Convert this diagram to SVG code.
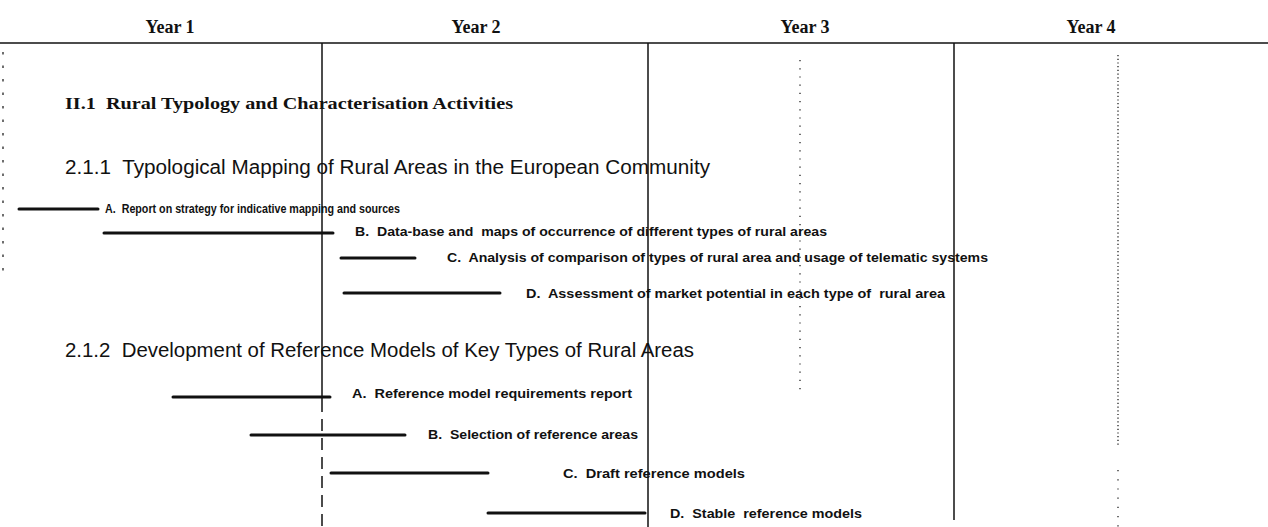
<svg xmlns="http://www.w3.org/2000/svg" width="1268" height="527" viewBox="0 0 1268 527">
<style>
.yr{font-family:"Liberation Serif",serif;font-weight:bold;font-size:18px;fill:#111}
.h1{font-family:"Liberation Serif",serif;font-weight:bold;font-size:17.5px;fill:#111}
.h2{font-family:"Liberation Sans",sans-serif;font-size:19.5px;fill:#111}
.lb{font-family:"Liberation Sans",sans-serif;font-weight:bold;font-size:13px;fill:#111}
.bar{stroke:#111;stroke-width:3;stroke-linecap:round}
.grid{stroke:#111;stroke-width:1.5;fill:none}
.dot{stroke:#222;stroke-width:1.3;fill:none}
</style>
<rect width="1268" height="527" fill="#fff"/>
<g id="connectors">
<line class="grid" x1="0" y1="43" x2="1268" y2="43" stroke-width="2.2"/>
<line class="grid" x1="322" y1="43" x2="322" y2="400"/>
<line class="grid" x1="322" y1="400" x2="322" y2="527" stroke-dasharray="12 7"/>
<line class="grid" x1="648" y1="43" x2="648" y2="527"/>
<line class="grid" x1="954" y1="43" x2="954" y2="520"/>
<line class="dot" x1="3" y1="52" x2="3" y2="272" stroke-dasharray="2.5 11"/>
<line class="dot" x1="800" y1="60" x2="800" y2="395" stroke-dasharray="1.2 7"/>
<line class="dot" x1="1118" y1="55" x2="1118" y2="445" stroke-dasharray="1.2 2.5"/>
<line class="dot" x1="1118" y1="470" x2="1118" y2="527" stroke-dasharray="1.2 8"/>
</g>
<g id="header">
<text class="yr" x="170" y="33" text-anchor="middle">Year 1</text>
<text class="yr" x="476" y="33" text-anchor="middle">Year 2</text>
<text class="yr" x="805" y="33" text-anchor="middle">Year 3</text>
<text class="yr" x="1091" y="33" text-anchor="middle">Year 4</text>
</g>
<g id="section-II1">
<text class="h1" x="65" y="109" textLength="448" lengthAdjust="spacingAndGlyphs" xml:space="preserve">II.1  Rural Typology and Characterisation Activities</text>
</g>
<g id="section-211">
<text class="h2" x="65" y="174" textLength="645" lengthAdjust="spacingAndGlyphs" xml:space="preserve">2.1.1  Typological Mapping of Rural Areas in the European Community</text>
</g>
<g id="task-211A">
<line class="bar" x1="19" y1="209" x2="98" y2="209"/>
<text class="lb" x="105" y="213" textLength="295" lengthAdjust="spacingAndGlyphs" xml:space="preserve">A.  Report on strategy for indicative mapping and sources</text>
</g>
<g id="task-211B">
<line class="bar" x1="104" y1="233" x2="333" y2="233"/>
<text class="lb" x="355" y="236" textLength="472" lengthAdjust="spacingAndGlyphs" xml:space="preserve">B.  Data-base and  maps of occurrence of different types of rural areas</text>
</g>
<g id="task-211C">
<line class="bar" x1="341" y1="258" x2="415" y2="258"/>
<text class="lb" x="447" y="262" textLength="541" lengthAdjust="spacingAndGlyphs" xml:space="preserve">C.  Analysis of comparison of types of rural area and usage of telematic systems</text>
</g>
<g id="task-211D">
<line class="bar" x1="344" y1="293" x2="500" y2="293"/>
<text class="lb" x="526" y="298" textLength="419" lengthAdjust="spacingAndGlyphs" xml:space="preserve">D.  Assessment of market potential in each type of  rural area</text>
</g>
<g id="section-212">
<text class="h2" x="65" y="357" textLength="629" lengthAdjust="spacingAndGlyphs" xml:space="preserve">2.1.2  Development of Reference Models of Key Types of Rural Areas</text>
</g>
<g id="task-212A">
<line class="bar" x1="173" y1="397" x2="330" y2="397"/>
<text class="lb" x="352" y="398" textLength="280" lengthAdjust="spacingAndGlyphs" xml:space="preserve">A.  Reference model requirements report</text>
</g>
<g id="task-212B">
<line class="bar" x1="251" y1="435" x2="405" y2="435"/>
<text class="lb" x="428" y="439" textLength="210" lengthAdjust="spacingAndGlyphs" xml:space="preserve">B.  Selection of reference areas</text>
</g>
<g id="task-212C">
<line class="bar" x1="331" y1="473" x2="488" y2="473"/>
<text class="lb" x="563" y="478" textLength="182" lengthAdjust="spacingAndGlyphs" xml:space="preserve">C.  Draft reference models</text>
</g>
<g id="task-212D">
<line class="bar" x1="488" y1="513" x2="645" y2="513"/>
<text class="lb" x="670" y="518" textLength="192" lengthAdjust="spacingAndGlyphs" xml:space="preserve">D.  Stable  reference models</text>
</g>
</svg>
